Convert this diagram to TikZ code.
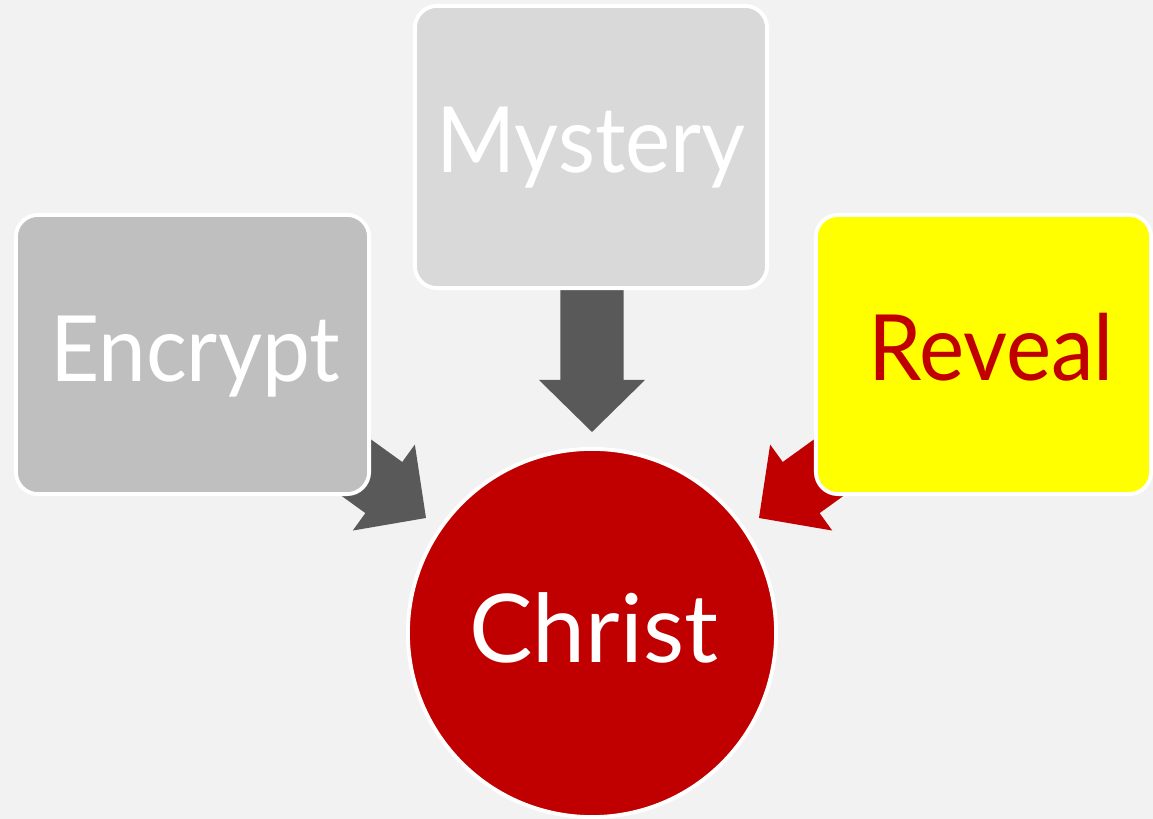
\documentclass[tikz,border=0pt]{standalone}
\usepackage{fontspec}
\setmainfont{Lato}
\newfontfamily\narrowfont{Lato}[FakeStretch=0.935]
\usetikzlibrary{calc}
\definecolor{bg}{HTML}{F2F2F2}
\definecolor{boxgray}{HTML}{BFBFBF}
\definecolor{boxlight}{HTML}{D9D9D9}
\definecolor{arrowgray}{HTML}{595959}
\definecolor{darkred}{HTML}{C00000}
\definecolor{brightyellow}{HTML}{FFFF00}
\newcommand{\blockarrow}[3]{%
  \coordinate (hb) at ($(#3)!0.52cm!(#2)$);
  \fill[#1] ($(#2)!0.315cm!90:(#3)$) -- ($(hb)!0.315cm!-90:(#2)$) -- ($(hb)!0.53cm!-90:(#2)$) -- (#3)
    -- ($(hb)!0.53cm!90:(#2)$) -- ($(hb)!0.315cm!90:(#2)$) -- ($(#2)!0.315cm!-90:(#3)$) -- cycle;}
\tikzset{
  box/.style={draw=white, line width=1.1pt, rounded corners=0.22cm, inner sep=0pt},
  label/.style={anchor=base, inner sep=0pt, font=\narrowfont\fontsize{26}{30}\selectfont},
  biglabel/.style={anchor=base, inner sep=0pt, font=\fontsize{27}{30}\selectfont},
}
\begin{document}
\begin{tikzpicture}[x=0.01cm,y=-0.01cm]
\fill[bg] (0,0) rectangle (1153,819);
\useasboundingbox (0,0) rectangle (1153,819);
% connectors (drawn first, under the boxes)
\coordinate (mtail) at (592,280);
\coordinate (mtip) at (592,432);
\coordinate (etail) at (311,435);
\coordinate (etip) at (426,518);
\coordinate (rtail) at (874,435);
\coordinate (rtip) at (759,518);
\blockarrow{arrowgray}{mtail}{mtip}
\blockarrow{arrowgray}{etail}{etip}
\blockarrow{darkred}{rtail}{rtip}
% boxes
\node[box, fill=boxgray, minimum width=3.53cm, minimum height=2.79cm] (encrypt) at (192.5,354.5) {};
\node[box, fill=boxlight, minimum width=3.52cm, minimum height=2.82cm] (mystery) at (591,147) {};
\node[box, fill=brightyellow, minimum width=3.35cm, minimum height=2.79cm] (reveal) at (983.5,354.5) {};
\node[circle, draw=white, line width=1.1pt, fill=darkred, minimum size=3.68cm, inner sep=0pt] (christ) at (592,633) {};
% labels
\node[label, text=white] (tencrypt) at (195,382) {Encrypt};
\node[label, text=white] (tmystery) at (591,173) {Mystery};
\node[label, text=darkred] (treveal) at (991,381) {Reveal};
\node[biglabel, text=white] (tchrist) at (594,663) {Christ};
\end{tikzpicture}
\end{document}
